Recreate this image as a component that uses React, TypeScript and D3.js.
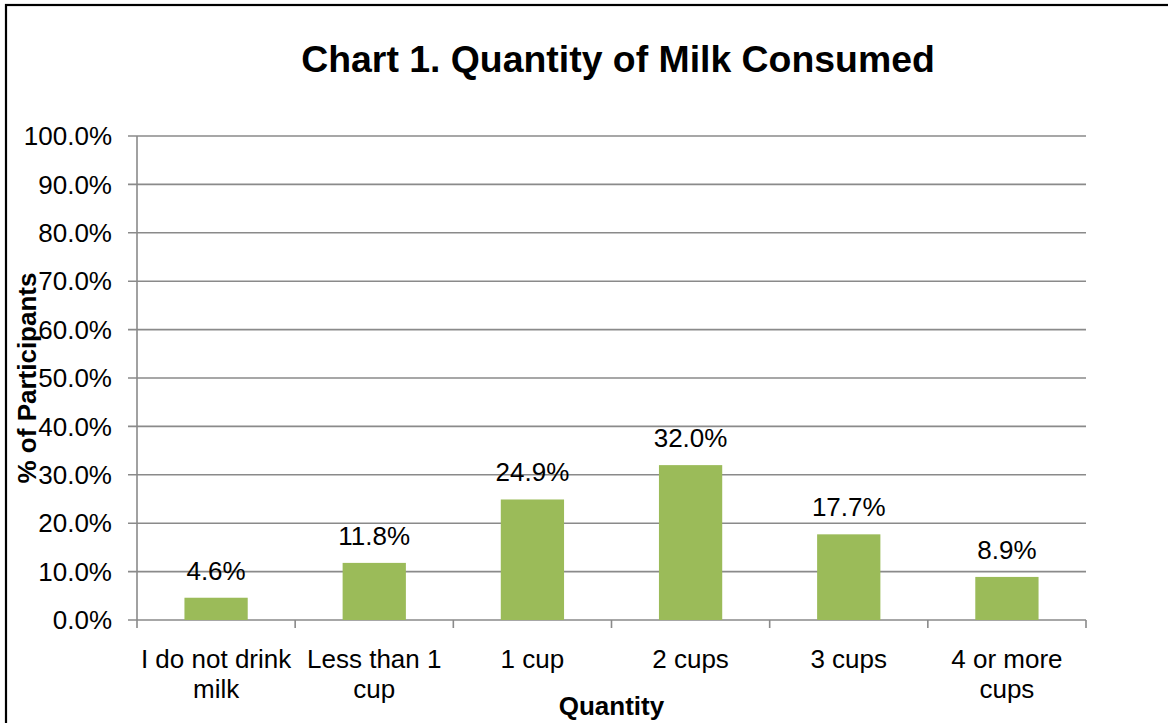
import React from "react";
import * as d3 from "d3";

const categories = [
  "I do not drink milk",
  "Less than 1 cup",
  "1 cup",
  "2 cups",
  "3 cups",
  "4 or more cups",
];
const values = [4.6, 11.8, 24.9, 32.0, 17.7, 8.9];
const yTicks = [0, 10, 20, 30, 40, 50, 60, 70, 80, 90, 100];

const W = 1168;
const H = 723;
const FONT = "'Liberation Sans', Arial, sans-serif";
const FS = 26;
const plot = { left: 137, right: 1086, top: 136, bottom: 620 };

function wrapLabel(text: string, maxWidth: number, font: string): string[] {
  const ctx = document.createElement("canvas").getContext("2d");
  if (!ctx) return [text];
  ctx.font = font;
  const words = text.split(" ");
  const lines: string[] = [];
  let line = "";
  for (const w of words) {
    const test = line ? line + " " + w : w;
    if (line && ctx.measureText(test).width > maxWidth) {
      lines.push(line);
      line = w;
    } else {
      line = test;
    }
  }
  if (line) lines.push(line);
  return lines;
}

export default function App() {
  const x = d3
    .scaleBand<string>()
    .domain(categories)
    .range([plot.left, plot.right])
    .paddingInner(0.6)
    .paddingOuter(0.3);
  const y = d3.scaleLinear().domain([0, 100]).range([plot.bottom, plot.top]);
  const step = x.step();
  const fmt = (v: number) => d3.format(".1f")(v) + "%";
  const grid = "#8a8a8a";

  return (
    <svg
      width={W}
      height={H}
      style={{ position: "absolute", left: 0, top: 0, background: "#fff" }}
      fontFamily={FONT}
    >
      <rect x={0} y={0} width={W} height={H} fill="#fff" />
      <rect x={6} y={5} width={W + 20} height={H + 20} fill="none" stroke="#000" strokeWidth={2.2} />

      <text x={618} y={72} textAnchor="middle" fontSize={37.4} fontWeight="bold" fill="#000">
        Chart 1. Quantity of Milk Consumed
      </text>

      {/* horizontal gridlines and y tick labels */}
      {yTicks.map((t) => (
        <g key={t}>
          <line x1={plot.left - 9} x2={plot.right} y1={y(t)} y2={y(t)} stroke={grid} strokeWidth={1.6} />
          <text x={112} y={y(t)} dy="0.35em" textAnchor="end" fontSize={FS} fill="#000">
            {fmt(t)}
          </text>
        </g>
      ))}

      {/* y axis line */}
      <line x1={plot.left} x2={plot.left} y1={plot.top} y2={plot.bottom} stroke={grid} strokeWidth={1.6} />

      {/* category boundary ticks */}
      {d3.range(categories.length + 1).map((i) => (
        <line
          key={i}
          x1={plot.left + i * step}
          x2={plot.left + i * step}
          y1={plot.bottom}
          y2={plot.bottom + 8}
          stroke={grid}
          strokeWidth={1.6}
        />
      ))}

      {/* bars and value labels */}
      {categories.map((c, i) => (
        <g key={c}>
          <rect
            x={x(c)}
            y={y(values[i])}
            width={x.bandwidth()}
            height={y(0) - y(values[i])}
            fill="#9bbb59"
          />
          <text
            x={(x(c) as number) + x.bandwidth() / 2}
            y={y(values[i]) - 18}
            textAnchor="middle"
            fontSize={FS}
            fill="#000"
          >
            {fmt(values[i])}
          </text>
        </g>
      ))}

      {/* category labels */}
      {categories.map((c) => {
        const lines = wrapLabel(c, step, `${FS}px ${FONT}`);
        const cx = (x(c) as number) + x.bandwidth() / 2;
        return (
          <text key={c} x={cx} y={668} textAnchor="middle" fontSize={FS} fill="#000">
            {lines.map((l, j) => (
              <tspan key={j} x={cx} y={668 + j * 30}>
                {l}
              </tspan>
            ))}
          </text>
        );
      })}

      {/* axis titles */}
      <text x={(plot.left + plot.right) / 2} y={715} textAnchor="middle" fontSize={FS} fontWeight="bold">
        Quantity
      </text>
      <text
        transform={`translate(36, ${(plot.top + plot.bottom) / 2}) rotate(-90)`}
        textAnchor="middle"
        fontSize={FS}
        fontWeight="bold"
      >
        % of Participants
      </text>
    </svg>
  );
}
